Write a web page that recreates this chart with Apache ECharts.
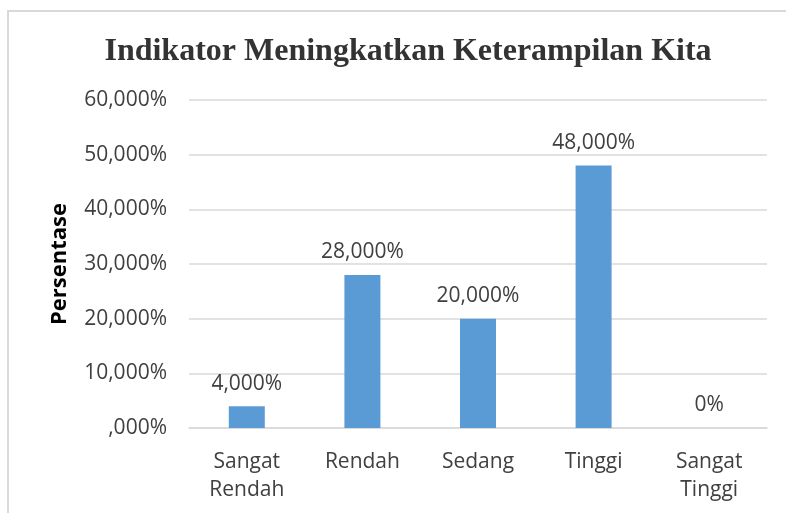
<!DOCTYPE html>
<html>
<head>
<meta charset="utf-8">
<script src="https://cdn.jsdelivr.net/npm/echarts@6/dist/echarts.min.js"></script>
<style>
  html, body { margin: 0; padding: 0; background: #fff; }
  #chart { width: 786px; height: 513px; }
</style>
</head>
<body>
<div id="chart"></div>
<script>
const categories = ["Sangat\nRendah", "Rendah", "Sedang", "Tinggi", "Sangat\nTinggi"];
const percentValues = [4, 28, 20, 48, 0];
const valueLabels = ["4,000%", "28,000%", "20,000%", "48,000%", "0%"];
const tickLabels = [",000%", "10,000%", "20,000%", "30,000%", "40,000%", "50,000%", "60,000%"];

const textColor = "#404040";
const labelFont = "'Open Sans', sans-serif";

const chart = echarts.init(document.getElementById("chart"));

chart.setOption({
  animation: false,
  title: {
    text: "Indikator Meningkatkan Keterampilan Kita",
    left: 403,
    top: 31,
    textAlign: "center",
    textStyle: {
      fontFamily: "'Liberation Serif', serif",
      fontWeight: "bold",
      fontSize: 32,
      color: "#333333",
    },
  },
  graphic: [
    {
      type: "rect",
      silent: true,
      shape: { x: 8, y: 11, width: 800, height: 520 },
      style: { fill: "none", stroke: "#d9d9d9", lineWidth: 2 },
    },
  ],
  grid: {
    left: 189,
    right: 19,
    top: 100,
    bottom: 85,
  },
  xAxis: {
    type: "category",
    data: categories,
    axisLine: { lineStyle: { color: "#d9d9d9", width: 1.5 } },
    axisTick: { show: false },
    axisLabel: {
      color: textColor,
      fontFamily: labelFont,
      fontSize: 21,
      lineHeight: 28,
      margin: 20,
      interval: 0,
    },
  },
  yAxis: {
    type: "value",
    min: 0,
    max: 60,
    interval: 10,
    name: "Persentase",
    nameLocation: "middle",
    nameGap: 118,
    nameRotate: 90,
    nameTextStyle: {
      color: "#000000",
      fontFamily: labelFont,
      fontWeight: "bold",
      fontSize: 22,
    },
    axisLine: { show: false },
    axisTick: { show: false },
    splitLine: { lineStyle: { color: "#d9d9d9", width: 1.5 } },
    axisLabel: {
      color: textColor,
      fontFamily: labelFont,
      fontSize: 21,
      margin: 22,
      formatter: (value) => tickLabels[Math.round(value / 10)],
    },
  },
  series: [
    {
      type: "bar",
      data: percentValues,
      barWidth: 36,
      itemStyle: { color: "#5b9bd5" },
      label: {
        show: true,
        position: "top",
        distance: 12,
        color: textColor,
        fontFamily: labelFont,
        fontSize: 21,
        formatter: (p) => valueLabels[p.dataIndex],
      },
    },
  ],
});
</script>
</body>
</html>
